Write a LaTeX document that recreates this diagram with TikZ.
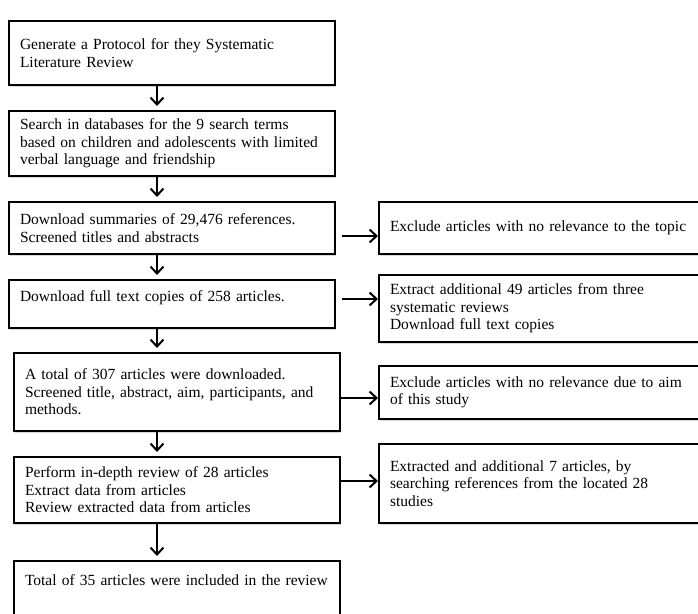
\documentclass[tikz,border=0pt]{standalone}
\usepackage{fontspec}
\setmainfont{Liberation Serif}
\usetikzlibrary{arrows.meta,shadows}

\tikzset{
  stepbox/.style={draw, fill=white, line width=2pt, anchor=north west, align=left,
    inner xsep=11pt, inner ysep=0pt, font=\fontsize{15.5}{17.5}\selectfont,
    drop shadow={shadow xshift=1pt, shadow yshift=-1.5pt, opacity=0.3}},
  leftbox/.style={stepbox, text width=304pt},
  sidebox/.style={stepbox, text width=318pt},
  flow/.style={line width=2pt, -{Straight Barb[length=7pt,width=13pt]}},
}

\begin{document}
\begin{tikzpicture}[x=1pt,y=1pt]
    \useasboundingbox (0,0) rectangle (698,-613);
    \fill[white] (0,0) rectangle (698,-613);

    % Main steps - left column
    \node[leftbox, minimum height=64pt] (protocol) at (8,-20)
      {Generate a Protocol for they Systematic\\ Literature Review};
    \node[leftbox, minimum height=65pt] (search) at (8,-110)
      {Search in databases for the 9 search terms\\ based on children and adolescents with limited\\ verbal language and friendship};
    \node[leftbox, minimum height=52pt] (summaries) at (8,-201)
      {Download summaries of 29,476 references.\\ Screened titles and abstracts};
    \node[leftbox, minimum height=48pt, text depth=16pt] (fulltext) at (8,-279)
      {Download full text copies of 258 articles.};
    \node[leftbox, minimum height=78pt] (downloaded) at (13,-352)
      {A total of 307 articles were downloaded.\\ Screened title, abstract, aim, participants, and\\ methods.};
    \node[leftbox, minimum height=66pt] (indepth) at (13,-456)
      {Perform in-depth review of 28 articles\\ Extract data from articles\\ Review extracted data from articles};
    \node[leftbox, minimum height=80pt, text depth=42pt] (total) at (13,-560)
      {Total of 35 articles were included in the review};

    % Side steps - right column
    \node[sidebox, minimum height=52pt] (exclude) at (378,-201)
      {Exclude articles with no relevance to the topic};
    \node[sidebox, minimum height=67pt] (extra) at (378,-274)
      {Extract additional 49 articles from three\\ systematic reviews\\ Download full text copies};
    \node[sidebox, minimum height=53pt] (excludeaim) at (378,-365)
      {Exclude articles with no relevance due to aim\\ of this study};
    \node[sidebox, minimum height=79pt] (snowball) at (378,-443)
      {Extracted and additional 7 articles, by\\ searching references from the located 28\\ studies};

    % Arrows down
    \coordinate (spine) at (157,0);
    \draw[flow, shorten >=4pt] (protocol.south -| spine) -- (search.north -| spine);
    \draw[flow, shorten >=4pt] (search.south -| spine) -- (summaries.north -| spine);
    \draw[flow, shorten >=4pt] (summaries.south -| spine) -- (fulltext.north -| spine);
    \draw[flow, shorten >=4pt] (fulltext.south -| spine) -- (downloaded.north -| spine);
    \draw[flow, shorten >=4pt] (downloaded.south -| spine) -- (indepth.north -| spine);
    \draw[flow, shorten >=4pt] (indepth.south -| spine) -- (total.north -| spine);

    % Arrows across
    \draw[flow, shorten <=6pt] ([yshift=-8pt]summaries.east) -- ([yshift=-8pt]summaries.east -| exclude.west);
    \draw[flow, shorten <=6pt] ([yshift=5pt]fulltext.east) -- ([yshift=5pt]fulltext.east -| extra.west);
    \draw[flow] ([yshift=-6pt]downloaded.east) -- ([yshift=-6pt]downloaded.east -| excludeaim.west);
    \draw[flow] ([yshift=9pt]indepth.east) -- ([yshift=9pt]indepth.east -| snowball.west);
\end{tikzpicture}
\end{document}
